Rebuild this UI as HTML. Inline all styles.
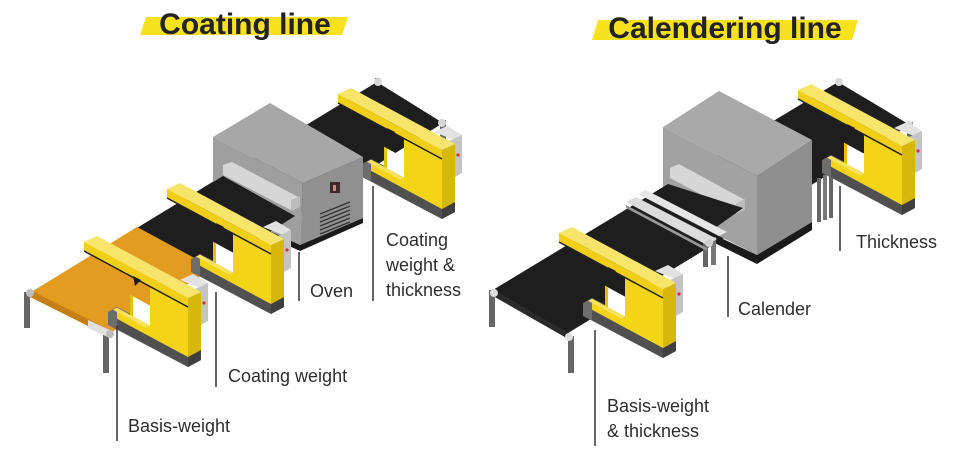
<!DOCTYPE html>
<html><head><meta charset="utf-8"><style>
html,body{margin:0;padding:0;background:#fff;}
svg{display:block;}
.lbl{font-family:"Liberation Sans",sans-serif;font-size:18px;fill:#2e2e2e;}
.ttl{font-family:"Liberation Sans",sans-serif;font-weight:bold;font-size:30px;fill:#222;}
</style></head><body>
<svg width="959" height="457" viewBox="0 0 959 457" xmlns="http://www.w3.org/2000/svg">
<defs>
<g id="frame">
  <!-- base -->
  <polygon points="108,312 117,307 201,350 201,360 188,367 108,325" fill="#6d6d6d"/>
  <polygon points="117,318.8 188,357 188,367 117,329" fill="#505050"/>
  <polygon points="188,357 201,350 201,360 188,367" fill="#3f3f3f"/>
  <!-- sensor box -->
  <polygon points="180,280 193,274 208,283 200,288" fill="#e2e2e2"/>
  <polygon points="195,289 208,283 208,321 201,325" fill="#c4c4c4"/>
  <circle cx="204" cy="303" r="1.6" fill="#d8323a"/>
  <!-- window -->
  <polygon points="130,294.8 150,305.6 150,325.6 130,314.8" fill="#ffffff"/>
  <polygon points="130,294.8 133,296.4 133,316.4 130,314.8" fill="#e3c10c"/>
  <!-- front C face -->
  <polygon points="150,286.6 188,307 188,357 150,336.6" fill="#f3d416"/>
  <polygon points="117,307.8 150,325.6 150,336.6 117,318.8" fill="#f3d416"/>
  <polygon points="113,309.8 117,307.8 150,325.6 146,327.6" fill="#f7e260"/>
  <!-- pillar side -->
  <polygon points="188,298 201,292 201,350 188,357" fill="#d6b70b"/>
  <!-- bar -->
  <polygon points="84,242 97,236 201,292 188,298" fill="#f6e46b"/>
  <polygon points="84,242 188,298 188,307 84,251" fill="#f0cf16"/>
  <line x1="84" y1="251" x2="188" y2="307" stroke="#222" stroke-width="1.5"/>
  <polygon points="133,276 141,280 135,286" fill="#1e1e1e"/>
</g>
</defs>

<!-- ================= COATING LINE ================= -->
<polygon points="146,17 348,17 342,35 140,35" fill="#f7e21d"/>
<text x="245" y="34" text-anchor="middle" class="ttl">Coating line</text>

<rect x="440" y="120" width="6" height="40" fill="#666"/>
<rect x="375" y="78" width="5" height="12" fill="#666"/>
<polygon points="30,293 110,333 443,123 377,82" fill="#1e1e1e"/>
<circle cx="442" cy="123" r="4" fill="#d8d8d8"/>
<circle cx="378" cy="82" r="4" fill="#d8d8d8"/>
<use href="#frame" transform="translate(254,-148)"/>
<!-- oven -->
<polygon points="213,137 303,183 300,245 213,205" fill="#9f9f9f"/>
<polygon points="303,183 363,157 363,218 300,245" fill="#909090"/>
<polygon points="213,137 270,103 363,157 303,183" fill="#a7a7a7"/>
<polygon points="300,245 363,218 363,223 300,251 213,211 213,205" fill="#1a1a1a"/>
<rect x="330" y="182" width="10" height="11" fill="#3a2a2a"/>
<rect x="333" y="185" width="3" height="6" fill="#c88"/>
<g stroke="#333" stroke-width="1.3">
<line x1="320" y1="214" x2="350" y2="202"/><line x1="320" y1="218" x2="350" y2="206"/>
<line x1="320" y1="222" x2="350" y2="210"/><line x1="320" y1="226" x2="350" y2="214"/>
<line x1="320" y1="230" x2="350" y2="218"/><line x1="320" y1="234" x2="350" y2="222"/>
</g>
<polygon points="223,165 232,162 300,198 298,208 291,210 223,175" fill="#d6d6d6"/>
<polygon points="291,200 300,196 300,207 291,211" fill="#bcbcbc"/>
<polygon points="30,293 110,333 295,216 223,176" fill="#1e1e1e"/>
<polygon points="30,293 110,333 213,268 137,227" fill="#e39c20"/>
<use href="#frame" transform="translate(83,-53)"/>
<use href="#frame"/>
<rect x="24" y="292" width="6" height="36" fill="#666"/>
<rect x="103" y="333" width="6" height="40" fill="#666"/>
<polygon points="30,290 112,331 112,338 30,297" fill="#c57f12"/>
<polygon points="88,320 112,331 112,339 88,328" fill="#e0e0e0"/>
<circle cx="110" cy="334" r="4" fill="#bdbdbd"/>
<circle cx="30" cy="293" r="4" fill="#bdbdbd"/>

<g stroke="#333" stroke-width="1.5">
<line x1="117" y1="326" x2="117" y2="441"/>
<line x1="216" y1="292" x2="216" y2="387"/>
<line x1="299" y1="252" x2="299" y2="301"/>
<line x1="373" y1="186" x2="373" y2="301"/>
</g>
<text x="128" y="432" class="lbl">Basis-weight</text>
<text x="228" y="382" class="lbl">Coating weight</text>
<text x="310" y="297" class="lbl">Oven</text>
<text x="386" y="246" class="lbl">Coating</text>
<text x="386" y="271" class="lbl">weight &amp;</text>
<text x="386" y="296" class="lbl">thickness</text>

<!-- ================= CALENDERING LINE ================= -->
<polygon points="598,20 858,20 852,40 592,40" fill="#f7e21d"/>
<text x="725" y="38" text-anchor="middle" class="ttl">Calendering line</text>

<rect x="907" y="122" width="6" height="40" fill="#666"/>
<polygon points="493,290 568,333 910,125 838,82" fill="#1e1e1e"/>
<circle cx="909" cy="125" r="4" fill="#d8d8d8"/>
<circle cx="839" cy="82" r="4" fill="#d8d8d8"/>
<rect x="817" y="178" width="4" height="44" fill="#666"/>
<rect x="823" y="175" width="4" height="45" fill="#777"/>
<rect x="829" y="172" width="4" height="46" fill="#666"/>
<use href="#frame" transform="translate(714,-152)"/>
<polygon points="663,127 757,176 757,255 663,208" fill="#a2a2a2"/>
<polygon points="757,176 812,140 812,222 757,255" fill="#8f8f8f"/>
<polygon points="663,127 719,91 812,140 757,176" fill="#a9a9a9"/>
<polygon points="757,255 812,222 812,230 757,264 640,206 640,200" fill="#1a1a1a"/>
<polygon points="670,168 679,164 745,200 743,211 736,213 670,178" fill="#d6d6d6"/>
<polygon points="736,203 745,199 745,210 736,214" fill="#bcbcbc"/>
<polygon points="493,290 568,333 743,208 668,184" fill="#1e1e1e"/>
<rect x="703" y="240" width="5" height="27" fill="#666"/>
<rect x="711" y="237" width="5" height="28" fill="#777"/>
<polygon points="638,194 646,190 727,232 719,236" fill="#e6e6e6"/>
<polygon points="626,202 636,197 717,239 707,245" fill="#dcdcdc"/>
<polygon points="626,205 707,248 707,251 626,208" fill="#999"/>
<circle cx="709" cy="243" r="4" fill="#cfcfcf"/>
<use href="#frame" transform="translate(475,-9)"/>
<rect x="489" y="290" width="6" height="37" fill="#666"/>
<rect x="568" y="336" width="6" height="37" fill="#666"/>
<polygon points="493,290 570,334 570,340 493,296" fill="#2a2a2a"/>
<circle cx="494" cy="293" r="4" fill="#ddd"/>
<circle cx="569" cy="337" r="4" fill="#ddd"/>

<g stroke="#333" stroke-width="1.5">
<line x1="595" y1="330" x2="595" y2="446"/>
<line x1="728" y1="256" x2="728" y2="317"/>
<line x1="840" y1="186" x2="840" y2="251"/>
</g>
<text x="607" y="412" class="lbl">Basis-weight</text>
<text x="607" y="437" class="lbl">&amp; thickness</text>
<text x="738" y="315" class="lbl">Calender</text>
<text x="856" y="248" class="lbl">Thickness</text>
</svg>
</body></html>
